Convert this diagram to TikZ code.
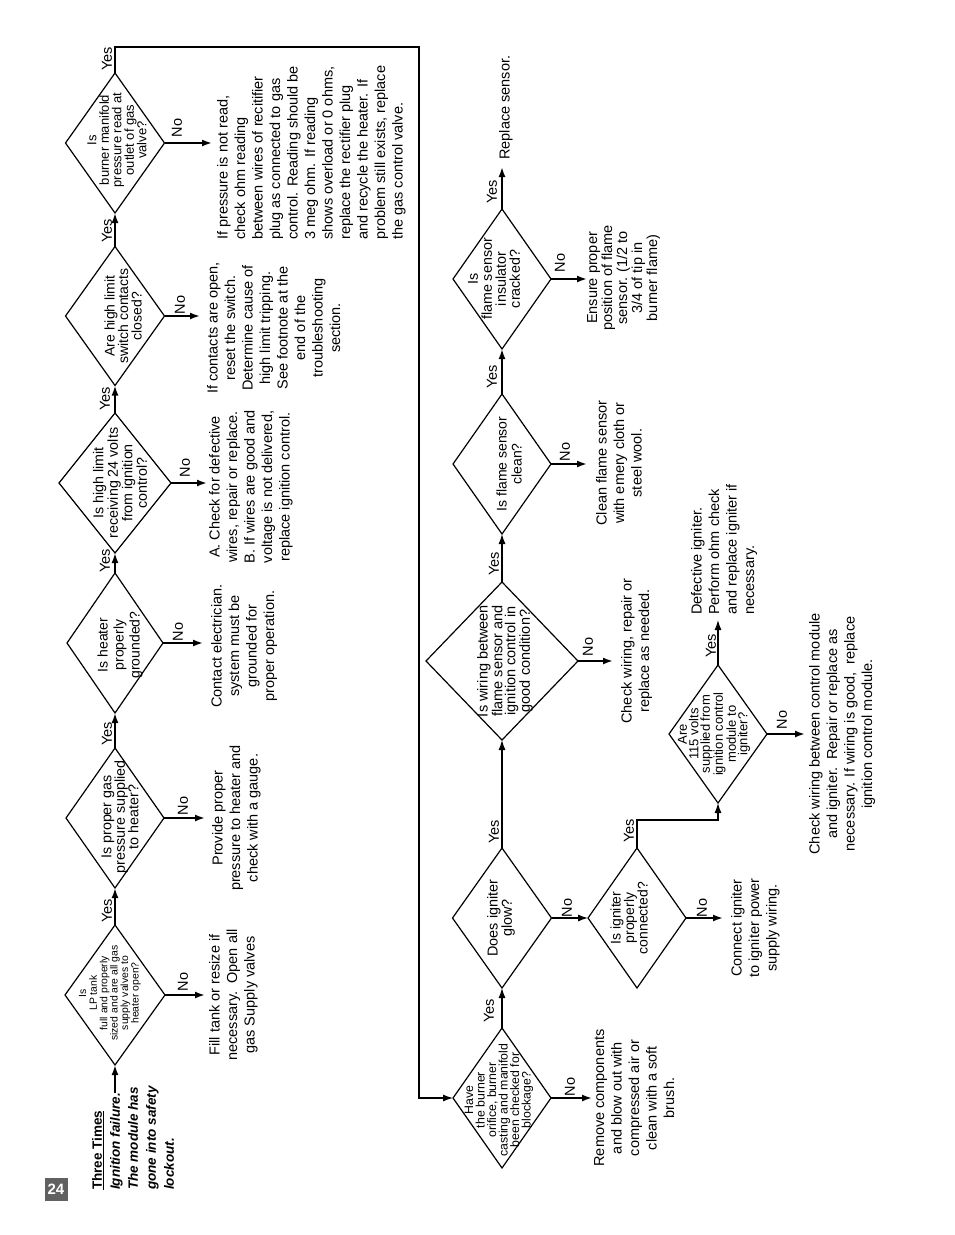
\documentclass[tikz,border=0pt]{standalone}
\usepackage{fontspec}
\setmainfont{Liberation Sans}
\usetikzlibrary{shapes.geometric,arrows.meta}
\begin{document}
\begin{tikzpicture}[x=1pt,y=-1pt,
  dia/.style={draw, diamond, line width=1.2pt, inner sep=0pt, outer sep=0pt},
  dt/.style={rotate=90, align=center, inner sep=0pt},
  bt/.style={rotate=90, align=center, inner sep=0pt, anchor=north, font=\fontsize{14.5}{17.5}\selectfont},
  btl/.style={rotate=90, align=left, inner sep=0pt, anchor=north west, font=\fontsize{14.5}{17.5}\selectfont},
  lbl/.style={rotate=90, inner sep=0pt, font=\fontsize{14.5}{14.5}\selectfont},
  arr/.style={line width=1.8pt, -{Latex[length=10pt,width=7pt]}},
  arrt/.style={line width=1.2pt, -{Latex[length=10pt,width=7pt]}},
  loopline/.style={line width=1.2pt}
]
\fill[white] (0,0) rectangle (954,1235);
\useasboundingbox (0,0) rectangle (954,1235);

% page number
\node[fill=black!62, text=white, font=\bfseries\fontsize{15}{15}\selectfont, minimum width=23pt, minimum height=23pt, inner sep=0pt] (pg) at (56,1189) {24};

% start text
\node[rotate=90, anchor=north west, align=left, inner sep=0pt, font=\bfseries\fontsize{13.5}{18}\selectfont] (start) at (92,1190)
 {\underline{Three Times}\\\textit{Ignition failure.}\\\textit{The module has}\\\textit{gone into safety}\\\textit{lockout.}};
\coordinate (s0) at (115,1093);

% column 1 diamonds
\node[dia, minimum width=100pt, minimum height=140pt] (d1) at (115,995) {};
\node[dt, font=\fontsize{10.4}{10.5}\selectfont] at (110,993) {Is\\LP tank\\full and properly\\sized and are all gas\\supply valves to\\heater open?};
\node[dia, minimum width=98pt, minimum height=140pt] (d2) at (115,818) {};
\node[dt, font=\fontsize{14.3}{13.5}\selectfont] at (120,817) {Is proper gas\\pressure supplied\\to heater?};
\node[dia, minimum width=96pt, minimum height=140pt] (d3) at (115,643) {};
\node[dt, font=\fontsize{14}{16}\selectfont] at (120,645) {Is heater\\properly\\grounded?};
\node[dia, minimum width=112pt, minimum height=140pt] (d4) at (115,483) {};
\node[dt, font=\fontsize{14.3}{14.5}\selectfont] at (120,483) {Is high limit\\receiving 24 volts\\from ignition\\control?};
\node[dia, minimum width=99pt, minimum height=139pt] (d5) at (115,316) {};
\node[dt, font=\fontsize{14}{13.5}\selectfont] at (123,316) {Are high limit\\switch contacts\\closed?};
\node[dia, minimum width=99pt, minimum height=140pt] (d6) at (115,143) {};
\node[dt, font=\fontsize{13}{12.5}\selectfont] at (117,140) {Is\\burner manifold\\pressure read at\\outlet of gas\\valve?};

% column 2 diamonds
\node[dia, minimum width=98pt, minimum height=140pt] (d7) at (502,1098) {};
\node[dt, font=\fontsize{12.3}{11.5}\selectfont] at (499,1100) {Have\\the burner\\orifice, burner\\casting and manifold\\been checked for\\blockage?};
\node[dia, minimum width=99pt, minimum height=140pt] (d8) at (502,918) {};
\node[dt, font=\fontsize{14.4}{13}\selectfont] at (501,918) {Does igniter\\glow?};
\node[dia, minimum width=152pt, minimum height=158pt] (d9) at (502,661) {};
\node[dt, font=\fontsize{14.5}{13}\selectfont] at (505,661) {Is wiring between\\flame sensor and\\ignition control in\\good condition?};
\node[dia, minimum width=98pt, minimum height=140pt] (d12) at (502,464) {};
\node[dt, font=\fontsize{14}{15}\selectfont] at (509,464) {Is flame sensor\\clean?};
\node[dia, minimum width=98pt, minimum height=140pt] (d13) at (502,279) {};
\node[dt, font=\fontsize{14.3}{14}\selectfont] at (494,279) {Is\\flame sensor\\insulator\\cracked?};
\node[dia, minimum width=98pt, minimum height=140pt] (d10) at (637,918) {};
\node[dt, font=\fontsize{14}{13.5}\selectfont] at (629,918) {Is igniter\\properly\\connected?};
\node[dia, minimum width=98pt, minimum height=138pt] (d11) at (718,734) {};
\node[dt, font=\fontsize{13}{11.5}\selectfont] at (714,734) {Are\\115 volts\\supplied from\\ignition control\\module to\\igniter?};

% outcome texts
\node[bt] (t1) at (209,995) {Fill tank or resize if\\necessary.\ \ Open all\\gas Supply valves};
\node[bt] (t2) at (212,818) {Provide proper\\pressure to heater and\\check with a gauge.};
\node[bt] (t3) at (211,646) {Contact electrician.\\system must be\\grounded for\\proper operation.};
\node[bt] (t4) at (209,487) {A. Check for defective\\wires, repair or replace.\\B. If wires are good and\\voltage is not delivered,\\replace ignition control.};
\node[bt] (t5) at (207,328) {If contacts are open,\\reset the switch.\\Determine cause of\\high limit tripping.\\See footnote at the\\end of the\\troubleshooting\\section.};
\node[btl] (t6) at (217,240) {If pressure is not read,\\check ohm reading\\between wires of recitifier\\plug as connected to gas\\control. Reading should be\\3 meg ohm. If reading\\shows overload or 0 ohms,\\replace the rectifier plug\\and recycle the heater. If\\problem still exists, replace\\the gas control valve.};
\node[bt] (t7) at (594,1098) {Remove components\\and blow out with\\compressed air or\\clean with a soft\\brush.};
\node[bt] (t8) at (731,928) {Connect igniter\\to igniter power\\supply wiring.};
\node[bt] (t9) at (621,651) {Check wiring, repair or\\replace as needed.};
\node[bt] (t10) at (809,734) {Check wiring between control module\\and igniter.\ \ Repair or replace as\\necessary. If wiring is good,\ \ replace\\ignition control module.};
\node[btl] (t11) at (691,615) {Defective igniter.\\Perform ohm check\\and replace igniter if\\necessary.};
\node[bt] (t12) at (596,463) {Clean flame sensor\\with emery cloth or\\steel wool.};
\node[bt, font=\fontsize{14.5}{15}\selectfont] (t13) at (587,278) {Ensure proper\\position of flame\\sensor. (1/2 to\\3/4 of tip in\\burner flame)};
\node[btl] (t14) at (499,160) {Replace sensor.};

% arrow end coordinates
\coordinate (n1) at (205,995);
\coordinate (n2) at (205,818);
\coordinate (n3) at (203,643);
\coordinate (n4) at (207,483);
\coordinate (n5) at (200,316);
\coordinate (n6) at (212,143);
\coordinate (n7) at (592,1098);
\coordinate (n10) at (723,918);
\coordinate (n9) at (613,661);
\coordinate (n12) at (587,464);
\coordinate (n13) at (587,279);
\coordinate (n11) at (805,734);
\coordinate (y11) at (718,620);
\coordinate (y13) at (502,167);
\coordinate (k1) at (718,820);
\coordinate (l1) at (115,47);
\coordinate (l2) at (419,47);
\coordinate (l3) at (419,1098);

% connectors column 1
\draw[arr] (s0) -- (d1.south);
\draw[arr] (d1.north) -- (d2.south);
\draw[arr] (d2.north) -- (d3.south);
\draw[arr] (d3.north) -- (d4.south);
\draw[arr] (d4.north) -- (d5.south);
\draw[arr] (d5.north) -- (d6.south);
\draw[arr] (d1.east) -- (n1);
\draw[arr] (d2.east) -- (n2);
\draw[arr] (d3.east) -- (n3);
\draw[arr] (d4.east) -- (n4);
\draw[arr] (d5.east) -- (n5);
\draw[arr] (d6.east) -- (n6);
\draw[loopline, -{Latex[length=10pt,width=7pt]}] (d6.north) -- (l1) -- (l2) -- (l3) -- (d7.west);

% connectors column 2
\draw[arrt] (d7.north) -- (d8.south);
\draw[arrt] (d8.north) -- (d9.south);
\draw[arrt] (d9.north) -- (d12.south);
\draw[arr] (d12.north) -- (d13.south);
\draw[arr] (d13.north) -- (y13);
\draw[arr] (d7.east) -- (n7);
\draw[arrt] (d8.east) -- (d10.west);
\draw[arr] (d10.east) -- (n10);
\draw[arr] (d9.east) -- (n9);
\draw[arr] (d12.east) -- (n12);
\draw[arr] (d13.east) -- (n13);
\draw[arrt] (d10.north) |- (k1) -- (d11.south);
\draw[arr] (d11.east) -- (n11);
\draw[arrt] (d11.north) -- (y11);

% Yes labels
\node[lbl] at (107,911) {Yes};
\node[lbl] at (107,734) {Yes};
\node[lbl] at (105,561) {Yes};
\node[lbl] at (105,399) {Yes};
\node[lbl] at (107,231) {Yes};
\node[lbl] at (107,59) {Yes};
\node[lbl] at (489,1011) {Yes};
\node[lbl] at (494,832) {Yes};
\node[lbl] at (494,564) {Yes};
\node[lbl] at (492,377) {Yes};
\node[lbl] at (492,192) {Yes};
\node[lbl] at (629,831) {Yes};
\node[lbl] at (711,646) {Yes};

% No labels
\node[lbl] at (183,982) {No};
\node[lbl] at (183,806) {No};
\node[lbl] at (178,632) {No};
\node[lbl] at (185,468) {No};
\node[lbl] at (180,305) {No};
\node[lbl] at (177,128) {No};
\node[lbl] at (570,1087) {No};
\node[lbl] at (567,908) {No};
\node[lbl] at (702,908) {No};
\node[lbl] at (588,647) {No};
\node[lbl] at (565,452) {No};
\node[lbl] at (560,263) {No};
\node[lbl] at (782,720) {No};
\end{tikzpicture}
\end{document}
